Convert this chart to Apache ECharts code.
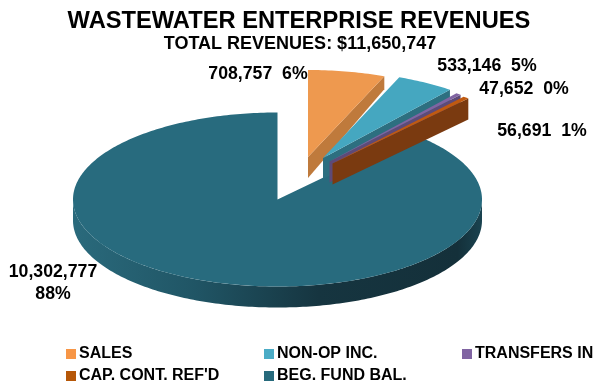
<!DOCTYPE html>
<html>
<head>
<meta charset="utf-8">
<style>html,body{margin:0;padding:0;background:#fff}#chart{width:598px;height:385px}</style>
<script src="https://cdn.jsdelivr.net/npm/echarts@6/dist/echarts.min.js"></script>
</head>
<body>
<div id="chart"></div>
<script>
// Revenue sources
const categories = ['SALES', 'NON-OP INC.', 'TRANSFERS IN', "CAP. CONT. REF'D", 'BEG. FUND BAL.'];
const revenues = [708757, 533146, 47652, 56691, 10302777];
const percentLabels = ['6%', '5%', '0%', '1%', '88%'];

// Tilted-disc geometry
const FONT = '"Liberation Sans", Arial, sans-serif';
const RX = 204.5, RY = 87, CX = 277.5, CY = 199.5, DEPTH = 21;
const explodeOffsets = [[30.5, -42.5], [45.5, -41.5], [52, -38], [55, -36], [0, 0]];
const farDepths = [13, 20, 20, 21, 21];
const topColors = ['#EE994F', '#45A7C0', '#8064A2', '#C05A10', '#286B7E'];
const wallColors = ['#BF7A3C', '#2D6F80', '#5E4A78', '#7A3A10', '#245E6F'];
const legendColors = ['#F79646', '#4BACC6', '#8064A2', '#B65708', '#276A7C'];
const labelSpots = [[258, 72], [487, 64], [524, 87], [542, 129], [53, 270]];

const total = revenues.reduce((a, b) => a + b, 0);
const startFractions = revenues.map((_, i) => revenues.slice(0, i).reduce((a, b) => a + b, 0) / total);

function rimPoint(cx, cy, theta, drop) {
  return [cx + RX * Math.sin(theta), cy - RY * Math.cos(theta) + drop];
}

function arcPoints(cx, cy, from, to, drop) {
  const steps = Math.max(2, Math.ceil(Math.abs(to - from) * 60));
  const pts = [];
  for (let k = 0; k <= steps; k++) pts.push(rimPoint(cx, cy, from + (to - from) * k / steps, drop));
  return pts;
}

function sliceRenderer(index) {
  return function (params, api) {
    const from = startFractions[index] * 2 * Math.PI;
    const to = from + api.value(0) / total * 2 * Math.PI;
    const cx = CX + explodeOffsets[index][0];
    const cy = CY + explodeOffsets[index][1];
    const children = [];

    // radial cut face on the clockwise end of the slice
    if (to < Math.PI) {
      children.push({
        type: 'polygon',
        shape: { points: [[cx, cy], rimPoint(cx, cy, to, 0), rimPoint(cx, cy, to, farDepths[index]), [cx, cy + DEPTH]] },
        style: { fill: wallColors[index] }
      });
    }

    // outer rim, only where it faces the viewer
    const rimFrom = Math.max(from, Math.PI / 2);
    const rimTo = Math.min(to, 3 * Math.PI / 2);
    if (rimTo > rimFrom) {
      const upper = arcPoints(cx, cy, rimFrom, rimTo, 0);
      const lower = arcPoints(cx, cy, rimTo, rimFrom, DEPTH);
      children.push({
        type: 'polygon',
        shape: { points: upper.concat(lower) },
        style: {
          fill: {
            type: 'linear', x: 1, y: 0, x2: 0, y2: 0,
            colorStops: [
              { offset: 0, color: '#1A4350' },
              { offset: 0.06, color: '#14303A' },
              { offset: 0.4, color: '#163540' },
              { offset: 0.7, color: '#205565' },
              { offset: 1, color: '#2A6A7C' }
            ]
          }
        }
      });
    }

    // top face
    children.push({
      type: 'polygon',
      shape: { points: [[cx, cy]].concat(arcPoints(cx, cy, from, to, 0)) },
      style: { fill: topColors[index] }
    });

    return { type: 'group', children };
  };
}

function formatLabel(i) {
  const amount = revenues[i].toLocaleString('en-US');
  return i === revenues.length - 1 ? amount + '\n' + percentLabels[i] : amount + '  ' + percentLabels[i];
}

const sliceSeries = categories.map((name, i) => ({
  type: 'custom',
  name,
  coordinateSystem: 'none',
  itemStyle: { color: legendColors[i] },
  renderItem: sliceRenderer(i),
  data: [[revenues[i]]],
  silent: true,
  // the large slice sits underneath the exploded ones
  z: i === revenues.length - 1 ? 1 : 2 + i
}));

const chart = echarts.init(document.getElementById('chart'), null, { renderer: 'canvas' });
chart.setOption({
  animation: false,
  backgroundColor: '#ffffff',
  title: [
    { text: 'WASTEWATER ENTERPRISE REVENUES', left: 299, top: 9, padding: 0, textAlign: 'center',
      textStyle: { fontFamily: FONT, fontWeight: 'bold', fontSize: 23.7, color: '#000' } },
    { text: 'TOTAL REVENUES: $11,650,747', left: 300, top: 35, padding: 0, textAlign: 'center',
      textStyle: { fontFamily: FONT, fontWeight: 'bold', fontSize: 18, color: '#000' } }
  ].concat(labelSpots.map((spot, i) => ({
    text: formatLabel(i),
    left: spot[0],
    top: spot[1] - 9,
    textAlign: 'center',
    padding: 0,
    textStyle: { fontFamily: FONT, fontWeight: 'bold', fontSize: 17.7, lineHeight: 22, color: '#000', align: 'center' }
  }))),
  legend: {
    data: categories,
    left: 66,
    top: 343,
    width: 640,
    padding: 0,
    itemGap: 0,
    itemWidth: 10,
    itemHeight: 10,
    icon: 'rect',
    selectedMode: false,
    textStyle: { fontFamily: FONT, fontWeight: 'bold', fontSize: 16, color: '#000', width: 185, lineHeight: 22, padding: [0, 0, 0, -2] }
  },
  series: sliceSeries
});
</script>
</body>
</html>
